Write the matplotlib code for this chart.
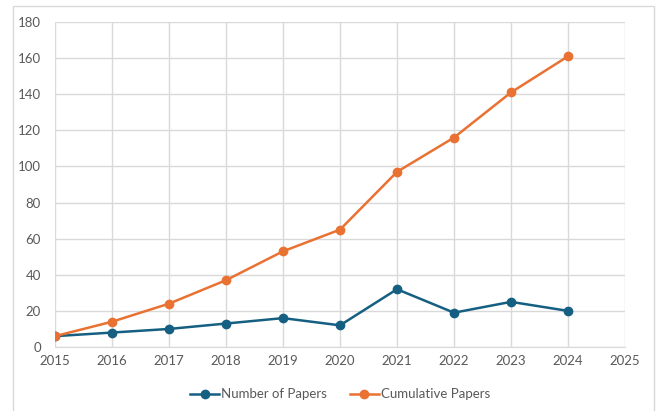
import matplotlib.pyplot as plt
from matplotlib.patches import Rectangle

plt.rcParams['font.family'] = ['Lato', 'DejaVu Sans']

years = [2015, 2016, 2017, 2018, 2019, 2020, 2021, 2022, 2023, 2024]
papers = [6, 8, 10, 13, 16, 12, 32, 19, 25, 20]
cumulative = [6, 14, 24, 37, 53, 65, 97, 116, 141, 161]

blue = '#156082'
orange = '#E97132'
grey_text = '#595959'
grid_col = '#D9D9D9'

fig = plt.figure(figsize=(6.56, 4.11), dpi=100)
# outer chart frame
fig.patches.append(Rectangle((13 / 656, -0.01), 641 / 656, 1 - 6 / 411 + 0.01,
                             transform=fig.transFigure, fill=False,
                             edgecolor=grid_col, linewidth=1))

ax = fig.add_axes([55 / 656, 64 / 411, 570 / 656, 325 / 411])
ax.plot(years, papers, color=blue, lw=1.8, marker='o', ms=6, label='Number of Papers', zorder=3)
ax.plot(years, cumulative, color=orange, lw=1.8, marker='o', ms=6, label='Cumulative Papers', zorder=3)

ax.set_xlim(2015, 2025)
ax.set_ylim(0, 180)
ax.set_xticks(range(2015, 2026))
ax.set_yticks(range(0, 181, 20))
ax.grid(True, color=grid_col, lw=1)
ax.set_axisbelow(True)
for s in ['top', 'right', 'left']:
    ax.spines[s].set_visible(False)
ax.spines['bottom'].set_color(grid_col)
ax.tick_params(length=0, labelsize=9.5, colors=grey_text)
ax.tick_params(axis='x', pad=6)
ax.tick_params(axis='y', pad=10)

ax.legend(loc='upper center', bbox_to_anchor=(0.5, -0.09), ncol=2, frameon=False,
          fontsize=9.5, labelcolor=grey_text, handlelength=2.2, handletextpad=0.15,
          columnspacing=1.7)

fig.savefig('out.png', dpi=100)
